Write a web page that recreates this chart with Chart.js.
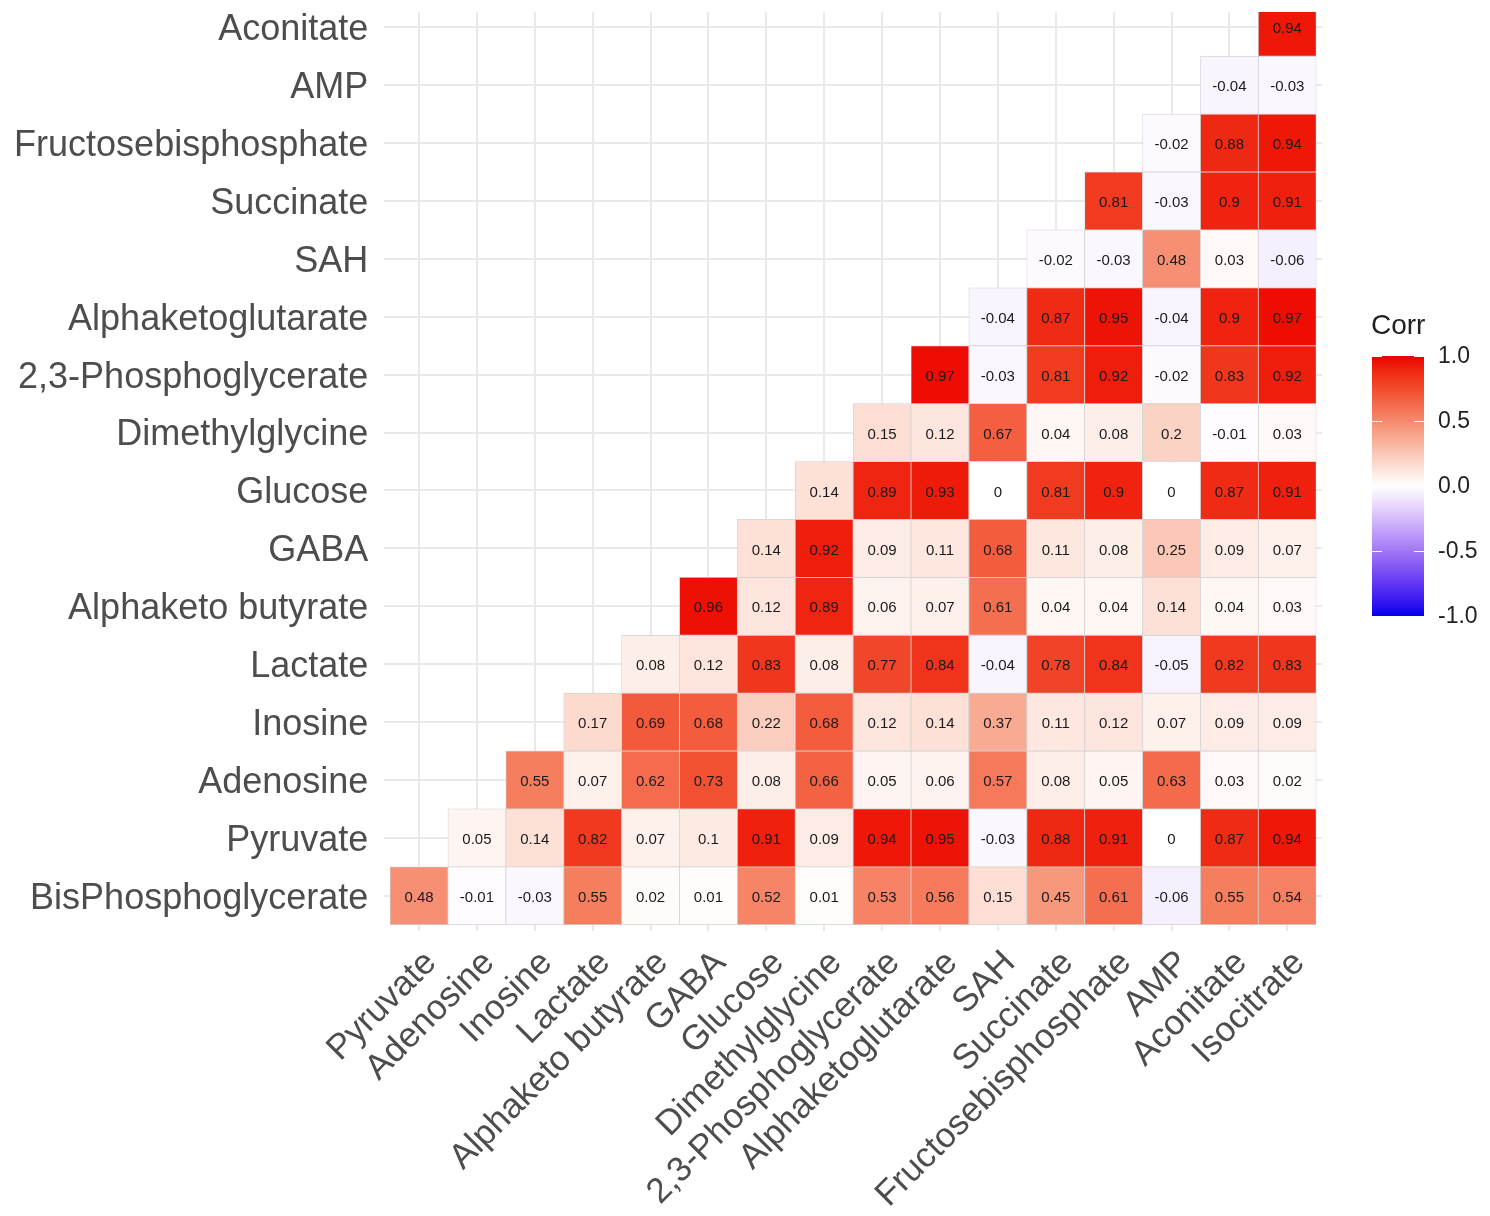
<!DOCTYPE html>
<html>
<head>
<meta charset="utf-8">
<script src="https://cdn.jsdelivr.net/npm/chart.js@4/dist/chart.umd.min.js"></script>
<style>
  html, body { margin: 0; padding: 0; background: #ffffff; }
  #wrap { width: 1490px; height: 1216px; position: relative; }
</style>
</head>
<body>
<div id="wrap"><canvas id="c" width="1490" height="1216"></canvas></div>
<script>
// ---- categories ----
const xLabels = ['Pyruvate','Adenosine','Inosine','Lactate','Alphaketo butyrate','GABA','Glucose',
  'Dimethylglycine','2,3-Phosphoglycerate','Alphaketoglutarate','SAH','Succinate',
  'Fructosebisphosphate','AMP','Aconitate','Isocitrate'];
// rows from bottom to top
const yLabels = ['BisPhosphoglycerate','Pyruvate','Adenosine','Inosine','Lactate','Alphaketo butyrate',
  'GABA','Glucose','Dimethylglycine','2,3-Phosphoglycerate','Alphaketoglutarate','SAH','Succinate',
  'Fructosebisphosphate','AMP','Aconitate'];

// ---- correlation values per row (row i starts at column i) ----
const rowBisPhosphoglycerate = [0.48, -0.01, -0.03, 0.55, 0.02, 0.01, 0.52, 0.01, 0.53, 0.56, 0.15, 0.45, 0.61, -0.06, 0.55, 0.54];
const rowPyruvate            = [0.05, 0.14, 0.82, 0.07, 0.1, 0.91, 0.09, 0.94, 0.95, -0.03, 0.88, 0.91, 0, 0.87, 0.94];
const rowAdenosine           = [0.55, 0.07, 0.62, 0.73, 0.08, 0.66, 0.05, 0.06, 0.57, 0.08, 0.05, 0.63, 0.03, 0.02];
const rowInosine             = [0.17, 0.69, 0.68, 0.22, 0.68, 0.12, 0.14, 0.37, 0.11, 0.12, 0.07, 0.09, 0.09];
const rowLactate             = [0.08, 0.12, 0.83, 0.08, 0.77, 0.84, -0.04, 0.78, 0.84, -0.05, 0.82, 0.83];
const rowAlphaketoButyrate   = [0.96, 0.12, 0.89, 0.06, 0.07, 0.61, 0.04, 0.04, 0.14, 0.04, 0.03];
const rowGABA                = [0.14, 0.92, 0.09, 0.11, 0.68, 0.11, 0.08, 0.25, 0.09, 0.07];
const rowGlucose             = [0.14, 0.89, 0.93, 0, 0.81, 0.9, 0, 0.87, 0.91];
const rowDimethylglycine     = [0.15, 0.12, 0.67, 0.04, 0.08, 0.2, -0.01, 0.03];
const rowPhosphoglycerate23  = [0.97, -0.03, 0.81, 0.92, -0.02, 0.83, 0.92];
const rowAlphaketoglutarate  = [-0.04, 0.87, 0.95, -0.04, 0.9, 0.97];
const rowSAH                 = [-0.02, -0.03, 0.48, 0.03, -0.06];
const rowSuccinate           = [0.81, -0.03, 0.9, 0.91];
const rowFructosebisphosphate= [-0.02, 0.88, 0.94];
const rowAMP                 = [-0.04, -0.03];
const rowAconitate           = [0.94];

const legendTicks = [1.0, 0.5, 0.0, -0.5, -1.0];

const rows = [rowBisPhosphoglycerate, rowPyruvate, rowAdenosine, rowInosine, rowLactate,
  rowAlphaketoButyrate, rowGABA, rowGlucose, rowDimethylglycine, rowPhosphoglycerate23,
  rowAlphaketoglutarate, rowSAH, rowSuccinate, rowFructosebisphosphate, rowAMP, rowAconitate];

// ---- colour scale: blue - white - red interpolated in CIELAB ----
function toLin(c){ c/=255; return c<=0.04045 ? c/12.92 : Math.pow((c+0.055)/1.055, 2.4); }
function fromLin(c){ const v = c<=0.0031308 ? 12.92*c : 1.055*Math.pow(c,1/2.4)-0.055; return Math.max(0,Math.min(1,v))*255; }
function rgb2lab(rgb){
  const R=toLin(rgb[0]), G=toLin(rgb[1]), B=toLin(rgb[2]);
  let X=(0.4124564*R+0.3575761*G+0.1804375*B)/0.95047;
  let Y=(0.2126729*R+0.7151522*G+0.0721750*B);
  let Z=(0.0193339*R+0.1191920*G+0.9503041*B)/1.08883;
  const f=t=> t>0.008856 ? Math.cbrt(t) : 7.787*t+16/116;
  const fx=f(X), fy=f(Y), fz=f(Z);
  return [116*fy-16, 500*(fx-fy), 200*(fy-fz)];
}
function lab2rgb(lab){
  const fy=(lab[0]+16)/116, fx=fy+lab[1]/500, fz=fy-lab[2]/200;
  const finv=t=> t*t*t>0.008856 ? t*t*t : (t-16/116)/7.787;
  const X=finv(fx)*0.95047, Y=finv(fy), Z=finv(fz)*1.08883;
  const R= 3.2404542*X-1.5371385*Y-0.4985314*Z;
  const G=-0.9692660*X+1.8760108*Y+0.0415560*Z;
  const B= 0.0556434*X-0.2040259*Y+1.0572252*Z;
  return [fromLin(R), fromLin(G), fromLin(B)];
}
const LAB_W = rgb2lab([255,255,255]), LAB_R = rgb2lab([255,0,0]), LAB_B = rgb2lab([0,0,255]);
function corrColor(v){
  const t = Math.min(1, Math.abs(v));
  const end = v >= 0 ? LAB_R : LAB_B;
  const lab = [0,1,2].map(i => LAB_W[i] + (end[i]-LAB_W[i])*t);
  const c = lab2rgb(lab);
  // slight tone adjustment to match the darker rendering of the reference image
  const g = 1 + 0.4 * t, k = 1 - 0.07 * t;
  const o = c.map(ch => Math.round(255 * Math.pow(ch / 255, g) * k));
  return 'rgb(' + o[0] + ',' + o[1] + ',' + o[2] + ')';
}

// ---- build cells ----
const cells = [];
rows.forEach((row, r) => {
  row.forEach((v, k) => {
    const c = r + k;
    cells.push({ x: c, y: [r - 0.5, r + 0.5], v: v });
  });
});

const FONT = '"Liberation Sans", Arial, Helvetica, sans-serif';
Chart.defaults.font.family = FONT;

const cellLabels = {
  id: 'cellLabels',
  afterDatasetsDraw(chart) {
    const ctx = chart.ctx;
    const meta = chart.getDatasetMeta(0);
    ctx.save();
    ctx.font = '15px ' + FONT;
    ctx.fillStyle = '#1a1a1a';
    ctx.textAlign = 'center';
    ctx.textBaseline = 'middle';
    meta.data.forEach((el, i) => {
      const p = el.getCenterPoint();
      ctx.fillText(String(cells[i].v), p.x, p.y + 2);
    });
    ctx.restore();
  }
};

const colorBar = {
  id: 'colorBar',
  afterDraw(chart) {
    const ctx = chart.ctx;
    const x0 = 1372, x1 = 1424, top = 356, bottom = 616;
    const h = bottom - top;
    ctx.save();
    const g = ctx.createLinearGradient(0, top, 0, bottom);
    for (let i = 0; i <= 40; i++) {
      const v = 1 - 2 * i / 40;
      g.addColorStop(i / 40, corrColor(v));
    }
    ctx.fillStyle = g;
    ctx.fillRect(x0, top, x1 - x0, h);
    // ticks
    ctx.strokeStyle = '#ffffff';
    ctx.lineWidth = 1;
    legendTicks.forEach(v => {
      const y = Math.round(top + (1 - v) / 2 * h) + 0.5;
      ctx.beginPath();
      ctx.moveTo(x0, y); ctx.lineTo(x0 + 10, y);
      ctx.moveTo(x1 - 10, y); ctx.lineTo(x1, y);
      ctx.stroke();
    });
    // labels
    ctx.fillStyle = '#222222';
    ctx.font = '23px ' + FONT;
    ctx.textAlign = 'left';
    ctx.textBaseline = 'middle';
    legendTicks.forEach(v => {
      const y = top + (1 - v) / 2 * h;
      ctx.fillText(v.toFixed(1), 1438, y + 1);
    });
    // title
    ctx.font = '28px ' + FONT;
    ctx.fillText('Corr', 1371, 326);
    ctx.restore();
  }
};

new Chart(document.getElementById('c'), {
  type: 'bar',
  data: {
    datasets: [{
      data: cells,
      backgroundColor: ctx => ctx.raw ? corrColor(ctx.raw.v) : '#fff',
      borderColor: '#d2d2d2',
      borderWidth: 0.75,
      borderSkipped: false,
      barPercentage: 1,
      categoryPercentage: 1
    }]
  },
  options: {
    responsive: false,
    animation: false,
    events: [],
    layout: { padding: { top: 12, right: 168, left: 0, bottom: 0 } },
    plugins: { legend: { display: false }, tooltip: { enabled: false } },
    scales: {
      x: {
        type: 'linear',
        min: -0.6, max: 15.6,
        offset: false,
        afterBuildTicks: axis => { axis.ticks = xLabels.map((_, i) => ({ value: i })); },
        afterFit: s => { s.height = 285.5; s.paddingLeft = 0; s.paddingRight = 0; },
        grid: { color: '#e9e9e9', lineWidth: 2, drawTicks: false, offset: false },
        border: { display: false },
        ticks: {
          autoSkip: false,
          minRotation: 45, maxRotation: 45,
          padding: 12,
          labelOffset: 12,
          color: '#4d4d4d',
          font: { size: 35 },
          callback: v => xLabels[v]
        }
      },
      y: {
        type: 'linear',
        min: -0.6, max: 15.264,
        afterBuildTicks: axis => { axis.ticks = yLabels.map((_, i) => ({ value: i })); },
        afterFit: s => { s.width = 384.3; s.paddingTop = 0; s.paddingBottom = 0; },
        grid: { color: '#e9e9e9', lineWidth: 2, drawTicks: false },
        border: { display: false },
        ticks: {
          autoSkip: false,
          padding: 16,
          labelOffset: 3,
          color: '#4d4d4d',
          font: { size: 36 },
          callback: v => yLabels[v]
        }
      }
    }
  },
  plugins: [cellLabels, colorBar]
});
</script>
</body>
</html>
